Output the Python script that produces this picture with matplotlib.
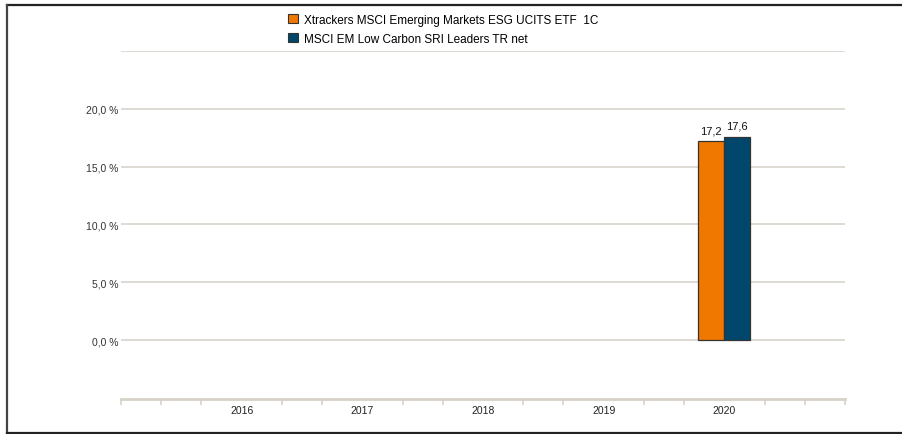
import matplotlib
matplotlib.use("Agg")
import matplotlib.pyplot as plt
from matplotlib.lines import Line2D
from matplotlib.patches import Patch
import numpy as np

plt.rcParams['font.family'] = ['Liberation Sans', 'DejaVu Sans']

years = ["2016", "2017", "2018", "2019", "2020"]
series_names = ["Xtrackers MSCI Emerging Markets ESG UCITS ETF  1C",
                "MSCI EM Low Carbon SRI Leaders TR net"]
etf_values = [None, None, None, None, 17.2]
index_values = [None, None, None, None, 17.6]
colors = ["#f07800", "#00476b"]
y_ticks = [0, 5, 10, 15, 20]
y_tick_labels = ["0,0 %", "5,0 %", "10,0 %", "15,0 %", "20,0 %"]

W, H = 903, 435
fig = plt.figure(figsize=(W/100, H/100), dpi=100)
ax = fig.add_axes([121/W, 1-400/H, (845-121)/W, (400-52)/H])

x = np.arange(1, len(years)+1)
bw = 0.215
for vals, off, c in [(etf_values, -bw/2, colors[0]), (index_values, bw/2, colors[1])]:
    for xi, v in zip(x, vals):
        if v is None:
            continue
        ax.bar(xi+off, v, width=bw, color=c, edgecolor="#333333", linewidth=0.9, zorder=3)
        ax.text(xi+off, v+0.5, f"{v:.1f}".replace(".", ","), ha="center", va="bottom",
                fontsize=8, color="#111111", zorder=4)

ax.set_xlim(0, 6)
ax.set_ylim(-5.1, 25)
ax.set_yticks(y_ticks + [25])
ax.set_yticklabels(y_tick_labels + [""])
ax.tick_params(axis="y", length=0, labelsize=7.5, labelcolor="#333333", pad=2)
ax.grid(axis="y", color="#dedbd3", linewidth=1.4, zorder=0)

ax.set_xticks(x)
ax.set_xticklabels(years)
ax.tick_params(axis="x", which="major", length=0, labelsize=7.5, labelcolor="#222222", pad=4)
minor = [k/3 for k in range(0, 19) if k % 3 != 0 or k in (0, 18)]
ax.set_xticks(minor, minor=True)
ax.tick_params(axis="x", which="minor", length=4, color="#d6d2c8", width=1.2)

for s in ["top", "right", "left"]:
    ax.spines[s].set_visible(False)
ax.spines["bottom"].set_color("#d6d2c8")
ax.spines["bottom"].set_linewidth(2)

handles = [Patch(facecolor=colors[0], edgecolor="#333333", linewidth=0.8),
           Patch(facecolor=colors[1], edgecolor="#333333", linewidth=0.8)]
fig.legend(handles, series_names, loc="upper left", bbox_to_anchor=(283/W, 1-10/H),
           frameon=False, fontsize=8.45, handlelength=0.85, handleheight=0.85,
           handletextpad=0.55, labelspacing=0.6, borderaxespad=0)

# figure frame: top, left, bottom
fig.add_artist(Line2D([7/W, 1], [1-6/H, 1-6/H], color="#222222", linewidth=1.6, transform=fig.transFigure))
fig.add_artist(Line2D([7/W, 7/W], [1-6/H, 1-434/H], color="#444444", linewidth=1.6, transform=fig.transFigure))
fig.add_artist(Line2D([7/W, 1], [1-434/H, 1-434/H], color="#222222", linewidth=1.6, transform=fig.transFigure))

fig.savefig("out.png", dpi=100)
